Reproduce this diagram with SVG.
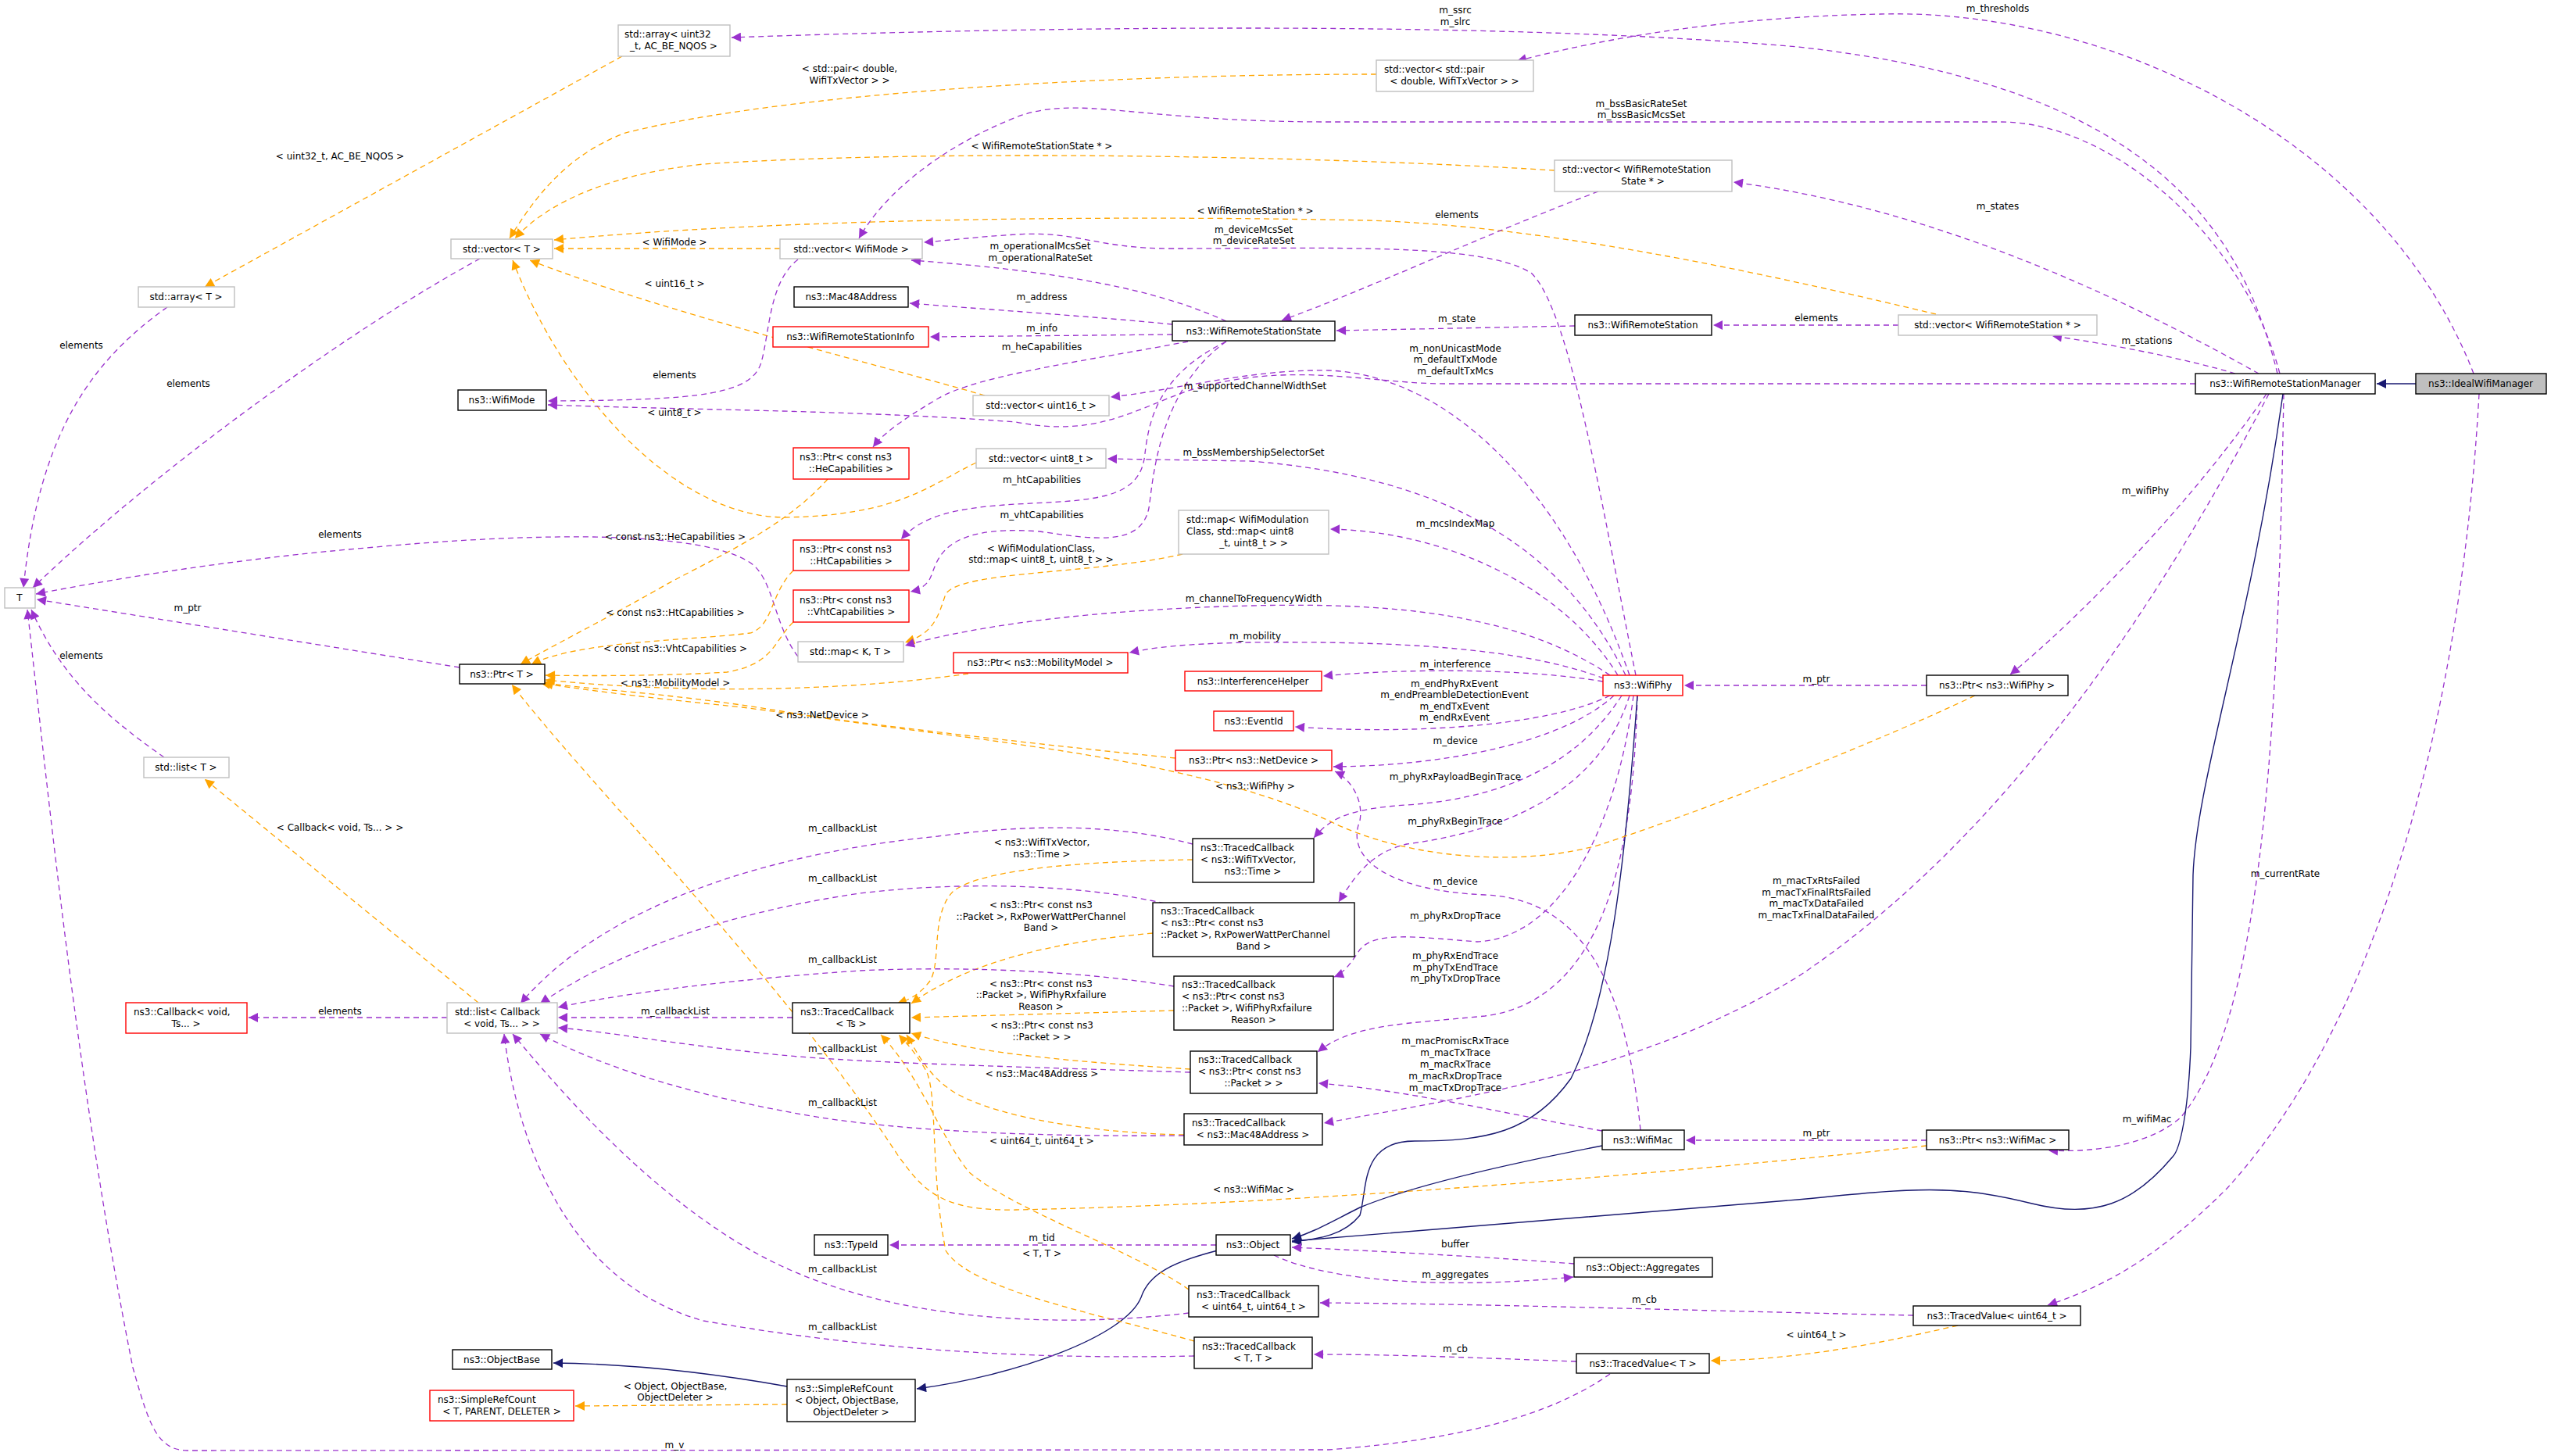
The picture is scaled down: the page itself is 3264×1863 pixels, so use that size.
<svg xmlns="http://www.w3.org/2000/svg" width="3264" height="1863" viewBox="0 0 3264 1863">
<style>
text{font-family:"DejaVu Sans","Liberation Sans",sans-serif;font-size:12px;fill:#000}
.nl text{text-anchor:middle}
.b{fill:#fff;stroke:#000;stroke-width:1.4}
.g{fill:#fff;stroke:#bfbfbf;stroke-width:1.4}
.r{fill:#fff;stroke:#ff0000;stroke-width:1.4}
.p{fill:none;stroke:#9a32cd;stroke-width:1.3;stroke-dasharray:7,5;marker-end:url(#ap)}
.o{fill:none;stroke:#ffa500;stroke-width:1.3;stroke-dasharray:7,5;marker-end:url(#ao)}
.s{fill:none;stroke:#191970;stroke-width:1.4;marker-end:url(#an)}
.lb{text-anchor:middle}
</style>
<defs>
<marker id="ap" viewBox="0 0 10 10" refX="10" refY="5" markerWidth="15" markerHeight="12" markerUnits="userSpaceOnUse" orient="auto"><path d="M0,0L10,5L0,10z" fill="#9a32cd"/></marker>
<marker id="ao" viewBox="0 0 10 10" refX="10" refY="5" markerWidth="15" markerHeight="12" markerUnits="userSpaceOnUse" orient="auto"><path d="M0,0L10,5L0,10z" fill="#ffa500"/></marker>
<marker id="an" viewBox="0 0 10 10" refX="10" refY="5" markerWidth="15" markerHeight="12" markerUnits="userSpaceOnUse" orient="auto"><path d="M0,0L10,5L0,10z" fill="#191970"/></marker>
</defs>
<rect width="3264" height="1863" fill="#fff"/>
<g id="edges">
<path class="p" d="M2914,478 C2870,300 2760,110 2300,60 C1900,25 1300,35 936,48"/>
<path class="p" d="M3165,478 C3050,180 2700,10 2406,18 C2200,22 2050,50 1941,78"/>
<path class="p" d="M2917,478 C2870,300 2700,156 2560,156 L1700,156 C1450,156 1380,120 1300,150 C1200,190 1130,250 1099,305"/>
<path class="o" d="M1989,218 C1700,200 1200,190 900,210 C760,225 690,270 659,305"/>
<path class="o" d="M1761,95 C1400,95 1000,120 800,170 C720,200 680,260 652,305"/>
<path class="o" d="M2477,402 C2300,360 2000,290 1751,282 C1400,275 1000,280 709,307"/>
<path class="o" d="M998,318 L709,318"/>
<path class="o" d="M1260,506 C1100,460 850,400 678,333"/>
<path class="o" d="M1249,592 C1190,620 1150,660 1003,662 C860,660 720,500 656,333"/>
<path class="p" d="M1021,332 C985,360 985,420 975,460 C965,505 900,512 701,513"/>
<path class="p" d="M2809,491 L1850,491 C1750,491 1650,460 1520,500 C1450,525 1400,560 1300,540 C1100,525 900,525 701,518"/>
<path class="p" d="M2093,864 C2050,650 2010,400 1960,350 C1900,310 1700,318 1500,318 C1400,318 1380,295 1300,300 C1250,303 1210,308 1182,310"/>
<path class="p" d="M1569,411 C1500,380 1400,350 1166,333"/>
<path class="p" d="M1500,415 C1400,405 1250,395 1164,388"/>
<path class="p" d="M1500,428 L1190,431"/>
<path class="p" d="M1520,437 C1400,460 1250,480 1200,510 C1150,540 1130,555 1117,572"/>
<path class="p" d="M1569,437 C1480,480 1470,540 1465,580 C1460,640 1400,640 1300,645 C1220,650 1180,660 1153,690"/>
<path class="p" d="M1569,437 C1480,500 1475,620 1470,650 C1460,700 1400,690 1330,680 C1200,670 1200,720 1190,740 C1185,750 1175,755 1165,757"/>
<path class="p" d="M2085,864 C2000,620 1850,480 1700,474 C1600,472 1500,500 1421,508"/>
<path class="p" d="M2080,864 C2000,700 1850,610 1600,590 L1417,587"/>
<path class="p" d="M2070,864 C2000,750 1850,680 1702,677"/>
<path class="o" d="M1513,709 C1400,735 1230,730 1210,760 C1200,790 1195,810 1158,822"/>
<path class="p" d="M2060,864 C1950,790 1800,770 1600,775 C1400,780 1250,800 1158,826"/>
<path class="p" d="M2052,868 C1950,830 1800,820 1600,822 C1500,824 1470,830 1445,835"/>
<path class="p" d="M2051,872 C1950,855 1800,855 1693,865"/>
<path class="p" d="M2060,890 C1980,930 1800,940 1657,930"/>
<path class="p" d="M2065,890 C2000,950 1850,980 1706,981"/>
<path class="p" d="M2075,890 C2030,960 1950,1020 1800,1030 C1720,1035 1700,1050 1681,1072"/>
<path class="p" d="M2085,890 C2050,1000 1950,1060 1800,1080 C1760,1090 1740,1110 1713,1154"/>
<path class="p" d="M2090,890 C2070,1050 2000,1200 1890,1205 C1820,1200 1760,1190 1740,1215 C1730,1230 1720,1245 1707,1250"/>
<path class="p" d="M2095,890 C2090,1100 2050,1280 1900,1300 C1800,1310 1730,1310 1686,1346"/>
<path class="p" d="M2903,504 C2800,700 2600,1050 2300,1250 C2100,1370 1900,1400 1694,1437"/>
<path class="p" d="M2050,1447 C1900,1420 1800,1395 1687,1386"/>
<path class="p" d="M2099,1446 C2080,1250 2020,1150 1900,1145 C1780,1140 1720,1100 1740,1050 C1745,1020 1725,995 1708,987"/>
<path class="p" d="M2465,877 L2155,877"/>
<path class="p" d="M2900,504 C2800,650 2650,800 2572,863"/>
<path class="p" d="M2922,504 C2915,900 2900,1300 2790,1430 C2750,1465 2680,1475 2621,1472"/>
<path class="p" d="M2465,1459 L2157,1459"/>
<path class="p" d="M3172,504 C3150,900 3050,1300 2850,1520 C2750,1620 2680,1650 2620,1670"/>
<path class="s" d="M3091,491 L3041,491"/>
<path class="s" d="M2921,504 C2880,800 2810,1000 2806,1120 L2803,1340 C2800,1420 2790,1470 2780,1480 C2730,1540 2680,1560 2600,1540 C2500,1515 2450,1520 2300,1535 L1653,1588"/>
<path class="s" d="M2095,890 C2080,1100 2060,1280 2010,1380 C1960,1450 1900,1460 1810,1460 C1740,1460 1750,1520 1740,1555 C1720,1580 1690,1585 1653,1589"/>
<path class="s" d="M2050,1466 C1900,1495 1800,1520 1740,1545 C1700,1565 1680,1577 1653,1585"/>
<path class="s" d="M1558,1600 C1500,1615 1470,1630 1460,1660 C1440,1710 1300,1760 1173,1777"/>
<path class="s" d="M1007,1774 C900,1755 800,1745 708,1744"/>
<path class="o" d="M1007,1797 L736,1799"/>
<path class="p" d="M1556,1593 L1138,1593"/>
<path class="p" d="M2014,1617 C1900,1608 1750,1600 1653,1596"/>
<path class="p" d="M1630,1606 C1700,1640 1850,1650 2013,1634"/>
<path class="p" d="M2448,1683 C2200,1678 1900,1668 1689,1667"/>
<path class="p" d="M2017,1742 C1900,1738 1800,1733 1681,1733"/>
<path class="o" d="M2505,1696 C2400,1720 2300,1740 2189,1741"/>
<path class="p" d="M2060,1758 C2000,1800 1900,1840 1700,1855 L240,1856 C200,1856 190,1820 170,1750 C100,1400 60,1000 35,780"/>
<path class="o" d="M1521,1650 C1450,1600 1300,1550 1240,1500 C1200,1450 1180,1380 1127,1324"/>
<path class="o" d="M1528,1716 C1400,1680 1240,1650 1210,1600 C1190,1500 1200,1400 1185,1370 C1170,1345 1160,1335 1150,1324"/>
<path class="o" d="M1515,1452 C1400,1450 1280,1430 1225,1400 C1190,1380 1175,1350 1160,1324"/>
<path class="o" d="M1523,1368 C1400,1360 1250,1350 1166,1322"/>
<path class="o" d="M1502,1293 L1166,1302"/>
<path class="o" d="M1475,1194 C1350,1205 1240,1230 1166,1284"/>
<path class="o" d="M1526,1100 C1400,1102 1260,1110 1220,1140 C1190,1170 1205,1230 1190,1255 C1175,1275 1160,1280 1148,1284"/>
<path class="p" d="M1014,1302 L714,1302"/>
<path class="p" d="M1526,1080 C1450,1060 1350,1050 1200,1070 C1000,1090 780,1150 666,1284"/>
<path class="p" d="M1490,1156 C1400,1135 1250,1125 1100,1143 C950,1165 800,1210 691,1284"/>
<path class="p" d="M1502,1262 C1400,1245 1250,1235 1100,1242 C950,1252 800,1270 714,1289"/>
<path class="p" d="M1523,1372 C1300,1365 1100,1360 1000,1350 C850,1335 780,1320 714,1315"/>
<path class="p" d="M1515,1453 C1300,1455 1150,1445 1050,1430 C900,1405 780,1370 691,1323"/>
<path class="p" d="M1521,1680 C1350,1700 1150,1690 1000,1620 C850,1550 720,1400 656,1323"/>
<path class="p" d="M1528,1735 C1300,1740 1100,1725 900,1690 C720,1640 660,1450 645,1323"/>
<path class="p" d="M572,1302 L318,1302"/>
<path class="o" d="M612,1283 L262,997"/>
<path class="p" d="M210,969 C140,920 80,870 40,780"/>
<path class="p" d="M214,393 C120,460 50,550 30,752"/>
<path class="p" d="M614,331 C450,420 200,600 42,752"/>
<path class="p" d="M588,854 L47,767"/>
<path class="p" d="M1021,840 C990,800 990,740 960,720 C900,680 700,680 480,700 C300,715 150,740 46,760"/>
<path class="o" d="M796,72 L262,367"/>
<path class="o" d="M1059,613 C1000,680 900,720 840,755 C760,800 700,830 666,850"/>
<path class="o" d="M1015,730 C985,760 990,800 960,810 C880,820 740,820 680,850"/>
<path class="o" d="M1015,796 C990,820 990,850 930,860 C850,865 750,865 698,864"/>
<path class="o" d="M1239,862 C1100,882 900,890 698,870"/>
<path class="o" d="M1504,970 C1300,950 1100,925 950,905 C800,890 730,880 692,874"/>
<path class="o" d="M2527,890 C2400,950 2200,1030 2050,1080 C1950,1110 1800,1100 1700,1050 C1500,960 1200,945 1000,910 C850,885 720,880 696,873"/>
<path class="o" d="M2465,1466 C2200,1495 1700,1540 1300,1548 C1200,1550 1180,1520 1150,1480 C1000,1250 750,1000 655,876"/>
<path class="p" d="M2015,417 L1710,423"/>
<path class="p" d="M2429,416 L2192,416"/>
<path class="p" d="M2860,478 C2800,460 2700,440 2626,430"/>
<path class="p" d="M2890,478 C2750,400 2500,270 2218,233"/>
<path class="p" d="M2045,245 C1900,300 1750,370 1640,410"/>
<g>
<text class="lb" x="1862" y="17">m_ssrc</text><text class="lb" x="1862" y="32">m_slrc</text>
<text class="lb" x="2556" y="15">m_thresholds</text>
<text class="lb" x="2100" y="137">m_bssBasicRateSet</text><text class="lb" x="2100" y="151">m_bssBasicMcsSet</text>
<text class="lb" x="1333" y="191">&lt; WifiRemoteStationState * &gt;</text>
<text class="lb" x="1087" y="92">&lt; std::pair&lt; double,</text><text class="lb" x="1087" y="107">WifiTxVector &gt; &gt;</text>
<text class="lb" x="1606" y="274">&lt; WifiRemoteStation * &gt;</text>
<text class="lb" x="863" y="314">&lt; WifiMode &gt;</text>
<text class="lb" x="863" y="367">&lt; uint16_t &gt;</text>
<text class="lb" x="863" y="532">&lt; uint8_t &gt;</text>
<text class="lb" x="863" y="484">elements</text>
<text class="lb" x="1862" y="450">m_nonUnicastMode</text><text class="lb" x="1862" y="464">m_defaultTxMode</text><text class="lb" x="1862" y="479">m_defaultTxMcs</text>
<text class="lb" x="1604" y="298">m_deviceMcsSet</text><text class="lb" x="1604" y="312">m_deviceRateSet</text>
<text class="lb" x="1331" y="319">m_operationalMcsSet</text><text class="lb" x="1331" y="334">m_operationalRateSet</text>
<text class="lb" x="1333" y="384">m_address</text>
<text class="lb" x="1333" y="424">m_info</text>
<text class="lb" x="1333" y="448">m_heCapabilities</text>
<text class="lb" x="1333" y="618">m_htCapabilities</text>
<text class="lb" x="1333" y="663">m_vhtCapabilities</text>
<text class="lb" x="1606" y="498">m_supportedChannelWidthSet</text>
<text class="lb" x="1604" y="583">m_bssMembershipSelectorSet</text>
<text class="lb" x="1862" y="674">m_mcsIndexMap</text>
<text class="lb" x="1332" y="706">&lt; WifiModulationClass,</text><text class="lb" x="1332" y="720">std::map&lt; uint8_t, uint8_t &gt; &gt;</text>
<text class="lb" x="1604" y="770">m_channelToFrequencyWidth</text>
<text class="lb" x="1606" y="818">m_mobility</text>
<text class="lb" x="1862" y="854">m_interference</text>
<text class="lb" x="1861" y="879">m_endPhyRxEvent</text><text class="lb" x="1861" y="893">m_endPreambleDetectionEvent</text><text class="lb" x="1861" y="908">m_endTxEvent</text><text class="lb" x="1861" y="922">m_endRxEvent</text>
<text class="lb" x="1862" y="952">m_device</text>
<text class="lb" x="1862" y="998">m_phyRxPayloadBeginTrace</text>
<text class="lb" x="1862" y="1055">m_phyRxBeginTrace</text>
<text class="lb" x="1862" y="1176">m_phyRxDropTrace</text>
<text class="lb" x="1862" y="1227">m_phyRxEndTrace</text><text class="lb" x="1862" y="1242">m_phyTxEndTrace</text><text class="lb" x="1862" y="1256">m_phyTxDropTrace</text>
<text class="lb" x="2324" y="1131">m_macTxRtsFailed</text><text class="lb" x="2324" y="1146">m_macTxFinalRtsFailed</text><text class="lb" x="2324" y="1160">m_macTxDataFailed</text><text class="lb" x="2324" y="1175">m_macTxFinalDataFailed</text>
<text class="lb" x="1862" y="1336">m_macPromiscRxTrace</text><text class="lb" x="1862" y="1351">m_macTxTrace</text><text class="lb" x="1862" y="1366">m_macRxTrace</text><text class="lb" x="1862" y="1381">m_macRxDropTrace</text><text class="lb" x="1862" y="1396">m_macTxDropTrace</text>
<text class="lb" x="1862" y="1132">m_device</text>
<text class="lb" x="2324" y="873">m_ptr</text>
<text class="lb" x="2745" y="632">m_wifiPhy</text>
<text class="lb" x="2747" y="1436">m_wifiMac</text>
<text class="lb" x="2324" y="1454">m_ptr</text>
<text class="lb" x="2924" y="1122">m_currentRate</text>
<text class="lb" x="864" y="1778">&lt; Object, ObjectBase,</text><text class="lb" x="864" y="1792">ObjectDeleter &gt;</text>
<text class="lb" x="1333" y="1588">m_tid</text>
<text class="lb" x="1862" y="1596">buffer</text>
<text class="lb" x="1862" y="1635">m_aggregates</text>
<text class="lb" x="2104" y="1667">m_cb</text>
<text class="lb" x="1862" y="1730">m_cb</text>
<text class="lb" x="2324" y="1712">&lt; uint64_t &gt;</text>
<text class="lb" x="863" y="1853">m_v</text>
<text class="lb" x="1333" y="1464">&lt; uint64_t, uint64_t &gt;</text>
<text class="lb" x="1333" y="1608">&lt; T, T &gt;</text>
<text class="lb" x="1333" y="1378">&lt; ns3::Mac48Address &gt;</text>
<text class="lb" x="1333" y="1316">&lt; ns3::Ptr&lt; const ns3</text><text class="lb" x="1333" y="1331">::Packet &gt; &gt;</text>
<text class="lb" x="1332" y="1263">&lt; ns3::Ptr&lt; const ns3</text><text class="lb" x="1332" y="1277">::Packet &gt;, WifiPhyRxfailure</text><text class="lb" x="1332" y="1292">Reason &gt;</text>
<text class="lb" x="1332" y="1162">&lt; ns3::Ptr&lt; const ns3</text><text class="lb" x="1332" y="1177">::Packet &gt;, RxPowerWattPerChannel</text><text class="lb" x="1332" y="1191">Band &gt;</text>
<text class="lb" x="1333" y="1082">&lt; ns3::WifiTxVector,</text><text class="lb" x="1333" y="1097">ns3::Time &gt;</text>
<text class="lb" x="864" y="1298">m_callbackList</text>
<text class="lb" x="1078" y="1064">m_callbackList</text>
<text class="lb" x="1078" y="1128">m_callbackList</text>
<text class="lb" x="1078" y="1232">m_callbackList</text>
<text class="lb" x="1078" y="1346">m_callbackList</text>
<text class="lb" x="1078" y="1415">m_callbackList</text>
<text class="lb" x="1078" y="1628">m_callbackList</text>
<text class="lb" x="1078" y="1702">m_callbackList</text>
<text class="lb" x="435" y="1298">elements</text>
<text class="lb" x="435" y="1063">&lt; Callback&lt; void, Ts... &gt; &gt;</text>
<text class="lb" x="104" y="843">elements</text>
<text class="lb" x="104" y="446">elements</text>
<text class="lb" x="241" y="495">elements</text>
<text class="lb" x="240" y="782">m_ptr</text>
<text class="lb" x="435" y="688">elements</text>
<text class="lb" x="435" y="204">&lt; uint32_t, AC_BE_NQOS &gt;</text>
<text class="lb" x="864" y="691">&lt; const ns3::HeCapabilities &gt;</text>
<text class="lb" x="864" y="788">&lt; const ns3::HtCapabilities &gt;</text>
<text class="lb" x="864" y="834">&lt; const ns3::VhtCapabilities &gt;</text>
<text class="lb" x="864" y="878">&lt; ns3::MobilityModel &gt;</text>
<text class="lb" x="1052" y="919">&lt; ns3::NetDevice &gt;</text>
<text class="lb" x="1606" y="1010">&lt; ns3::WifiPhy &gt;</text>
<text class="lb" x="1604" y="1526">&lt; ns3::WifiMac &gt;</text>
<text class="lb" x="1864" y="412">m_state</text>
<text class="lb" x="2324" y="411">elements</text>
<text class="lb" x="2747" y="440">m_stations</text>
<text class="lb" x="2556" y="268">m_states</text>
<text class="lb" x="1864" y="279">elements</text>
</g>
</g>
<g id="n1"><rect class="g" x="791" y="32" width="143" height="40"/><text x="799" y="48">std::array&lt; uint32</text><text x="862" y="63" text-anchor="middle">_t, AC_BE_NQOS &gt;</text></g>
<g id="n2" class="nl"><rect class="g" x="177" y="367" width="123" height="26"/><text x="238" y="384">std::array&lt; T &gt;</text></g>
<g id="n3" class="nl"><rect class="g" x="577" y="306" width="130" height="25"/><text x="642" y="323">std::vector&lt; T &gt;</text></g>
<g id="n4" class="nl"><rect class="g" x="998" y="306" width="182" height="25"/><text x="1089" y="323">std::vector&lt; WifiMode &gt;</text></g>
<g id="n5" class="nl"><rect class="b" x="1016" y="367" width="146" height="26"/><text x="1089" y="384">ns3::Mac48Address</text></g>
<g id="n6" class="nl"><rect class="r" x="989" y="418" width="199" height="26"/><text x="1088" y="435">ns3::WifiRemoteStationInfo</text></g>
<g id="n7" class="nl"><rect class="b" x="586" y="499" width="113" height="26"/><text x="642" y="516">ns3::WifiMode</text></g>
<g id="n8" class="nl"><rect class="g" x="6" y="752" width="39" height="26"/><text x="25" y="769">T</text></g>
<g id="n9" class="nl"><rect class="b" x="588" y="850" width="109" height="25"/><text x="642" y="867">ns3::Ptr&lt; T &gt;</text></g>
<g id="n10"><rect class="r" x="1015" y="573" width="148" height="40"/><text x="1023" y="589">ns3::Ptr&lt; const ns3</text><text x="1089" y="604" text-anchor="middle">::HeCapabilities &gt;</text></g>
<g id="n11"><rect class="r" x="1015" y="691" width="148" height="39"/><text x="1023" y="707">ns3::Ptr&lt; const ns3</text><text x="1089" y="722" text-anchor="middle">::HtCapabilities &gt;</text></g>
<g id="n12"><rect class="r" x="1015" y="755" width="148" height="41"/><text x="1023" y="772">ns3::Ptr&lt; const ns3</text><text x="1089" y="787" text-anchor="middle">::VhtCapabilities &gt;</text></g>
<g id="n13" class="nl"><rect class="g" x="1021" y="821" width="135" height="26"/><text x="1088" y="838">std::map&lt; K, T &gt;</text></g>
<g id="n14"><rect class="g" x="1761" y="77" width="201" height="40"/><text x="1771" y="93">std::vector&lt; std::pair</text><text x="1861" y="108" text-anchor="middle">&lt; double, WifiTxVector &gt; &gt;</text></g>
<g id="n15"><rect class="g" x="1989" y="205" width="227" height="40"/><text x="1999" y="221">std::vector&lt; WifiRemoteStation</text><text x="2102" y="236" text-anchor="middle">State * &gt;</text></g>
<g id="n16" class="nl"><rect class="b" x="1500" y="411" width="208" height="25"/><text x="1604" y="428">ns3::WifiRemoteStationState</text></g>
<g id="n17" class="nl"><rect class="b" x="2015" y="403" width="175" height="26"/><text x="2102" y="420">ns3::WifiRemoteStation</text></g>
<g id="n18" class="nl"><rect class="g" x="1245" y="506" width="174" height="26"/><text x="1332" y="523">std::vector&lt; uint16_t &gt;</text></g>
<g id="n19" class="nl"><rect class="g" x="1249" y="574" width="166" height="25"/><text x="1332" y="591">std::vector&lt; uint8_t &gt;</text></g>
<g id="n20"><rect class="g" x="1508" y="653" width="192" height="56"/><text x="1518" y="669">std::map&lt; WifiModulation</text><text x="1518" y="684">Class, std::map&lt; uint8</text><text x="1604" y="699" text-anchor="middle">_t, uint8_t &gt; &gt;</text></g>
<g id="n21" class="nl"><rect class="r" x="1220" y="835" width="223" height="26"/><text x="1331" y="852">ns3::Ptr&lt; ns3::MobilityModel &gt;</text></g>
<g id="n22" class="nl"><rect class="r" x="1516" y="859" width="175" height="25"/><text x="1603" y="876">ns3::InterferenceHelper</text></g>
<g id="n23" class="nl"><rect class="r" x="1553" y="910" width="102" height="25"/><text x="1604" y="927">ns3::EventId</text></g>
<g id="n24" class="nl"><rect class="r" x="2051" y="864" width="102" height="26"/><text x="2102" y="881">ns3::WifiPhy</text></g>
<g id="n25" class="nl"><rect class="g" x="2429" y="403" width="254" height="26"/><text x="2556" y="420">std::vector&lt; WifiRemoteStation * &gt;</text></g>
<g id="n26" class="nl"><rect class="b" x="2809" y="478" width="230" height="26"/><text x="2924" y="495">ns3::WifiRemoteStationManager</text></g>
<g id="n27" class="nl"><rect x="3091" y="478" width="167" height="26" fill="#bfbfbf" stroke="#000" stroke-width="1.4"/><text x="3174" y="495">ns3::IdealWifiManager</text></g>
<g id="n28" class="nl"><rect class="b" x="2465" y="864" width="181" height="26"/><text x="2555" y="881">ns3::Ptr&lt; ns3::WifiPhy &gt;</text></g>
<g id="n29" class="nl"><rect class="g" x="184" y="969" width="109" height="26"/><text x="238" y="986">std::list&lt; T &gt;</text></g>
<g id="n30"><rect class="r" x="161" y="1283" width="155" height="39"/><text x="171" y="1299">ns3::Callback&lt; void,</text><text x="238" y="1314" text-anchor="middle">Ts... &gt;</text></g>
<g id="n31"><rect class="g" x="572" y="1283" width="141" height="39"/><text x="582" y="1299">std::list&lt; Callback</text><text x="642" y="1314" text-anchor="middle">&lt; void, Ts... &gt; &gt;</text></g>
<g id="n32" class="nl"><rect class="b" x="579" y="1727" width="127" height="25"/><text x="642" y="1744">ns3::ObjectBase</text></g>
<g id="n33"><rect class="r" x="550" y="1779" width="184" height="39"/><text x="560" y="1795">ns3::SimpleRefCount</text><text x="642" y="1810" text-anchor="middle">&lt; T, PARENT, DELETER &gt;</text></g>
<g id="n34"><rect class="b" x="1007" y="1765" width="164" height="54"/><text x="1017" y="1781">ns3::SimpleRefCount</text><text x="1017" y="1796">&lt; Object, ObjectBase,</text><text x="1089" y="1811" text-anchor="middle">ObjectDeleter &gt;</text></g>
<g id="n35" class="nl"><rect class="r" x="1504" y="960" width="200" height="26"/><text x="1604" y="977">ns3::Ptr&lt; ns3::NetDevice &gt;</text></g>
<g id="n36"><rect class="b" x="1526" y="1073" width="155" height="56"/><text x="1536" y="1089">ns3::TracedCallback</text><text x="1536" y="1104">&lt; ns3::WifiTxVector,</text><text x="1603" y="1119" text-anchor="middle">ns3::Time &gt;</text></g>
<g id="n37"><rect class="b" x="1475" y="1155" width="258" height="69"/><text x="1485" y="1170">ns3::TracedCallback</text><text x="1485" y="1185">&lt; ns3::Ptr&lt; const ns3</text><text x="1485" y="1200">::Packet &gt;, RxPowerWattPerChannel</text><text x="1604" y="1215" text-anchor="middle">Band &gt;</text></g>
<g id="n38"><rect class="b" x="1014" y="1283" width="150" height="39"/><text x="1024" y="1299">ns3::TracedCallback</text><text x="1089" y="1314" text-anchor="middle">&lt; Ts &gt;</text></g>
<g id="n39"><rect class="b" x="1502" y="1249" width="204" height="69"/><text x="1512" y="1264">ns3::TracedCallback</text><text x="1512" y="1279">&lt; ns3::Ptr&lt; const ns3</text><text x="1512" y="1294">::Packet &gt;, WifiPhyRxfailure</text><text x="1604" y="1309" text-anchor="middle">Reason &gt;</text></g>
<g id="n40"><rect class="b" x="1523" y="1345" width="162" height="54"/><text x="1533" y="1360">ns3::TracedCallback</text><text x="1533" y="1375">&lt; ns3::Ptr&lt; const ns3</text><text x="1604" y="1390" text-anchor="middle">::Packet &gt; &gt;</text></g>
<g id="n41"><rect class="b" x="1515" y="1425" width="177" height="40"/><text x="1525" y="1441">ns3::TracedCallback</text><text x="1603" y="1456" text-anchor="middle">&lt; ns3::Mac48Address &gt;</text></g>
<g id="n42" class="nl"><rect class="b" x="2050" y="1446" width="105" height="25"/><text x="2102" y="1463">ns3::WifiMac</text></g>
<g id="n43" class="nl"><rect class="b" x="2465" y="1446" width="182" height="25"/><text x="2556" y="1463">ns3::Ptr&lt; ns3::WifiMac &gt;</text></g>
<g id="n44" class="nl"><rect class="b" x="1042" y="1580" width="94" height="26"/><text x="1089" y="1597">ns3::TypeId</text></g>
<g id="n45" class="nl"><rect class="b" x="1556" y="1580" width="95" height="26"/><text x="1603" y="1597">ns3::Object</text></g>
<g id="n46" class="nl"><rect class="b" x="2014" y="1609" width="177" height="25"/><text x="2102" y="1626">ns3::Object::Aggregates</text></g>
<g id="n47"><rect class="b" x="1521" y="1645" width="166" height="40"/><text x="1531" y="1661">ns3::TracedCallback</text><text x="1604" y="1676" text-anchor="middle">&lt; uint64_t, uint64_t &gt;</text></g>
<g id="n48"><rect class="b" x="1528" y="1711" width="151" height="40"/><text x="1538" y="1727">ns3::TracedCallback</text><text x="1603" y="1742" text-anchor="middle">&lt; T, T &gt;</text></g>
<g id="n49" class="nl"><rect class="b" x="2448" y="1671" width="214" height="25"/><text x="2555" y="1688">ns3::TracedValue&lt; uint64_t &gt;</text></g>
<g id="n50" class="nl"><rect class="b" x="2017" y="1732" width="170" height="25"/><text x="2102" y="1749">ns3::TracedValue&lt; T &gt;</text></g>
</svg>
